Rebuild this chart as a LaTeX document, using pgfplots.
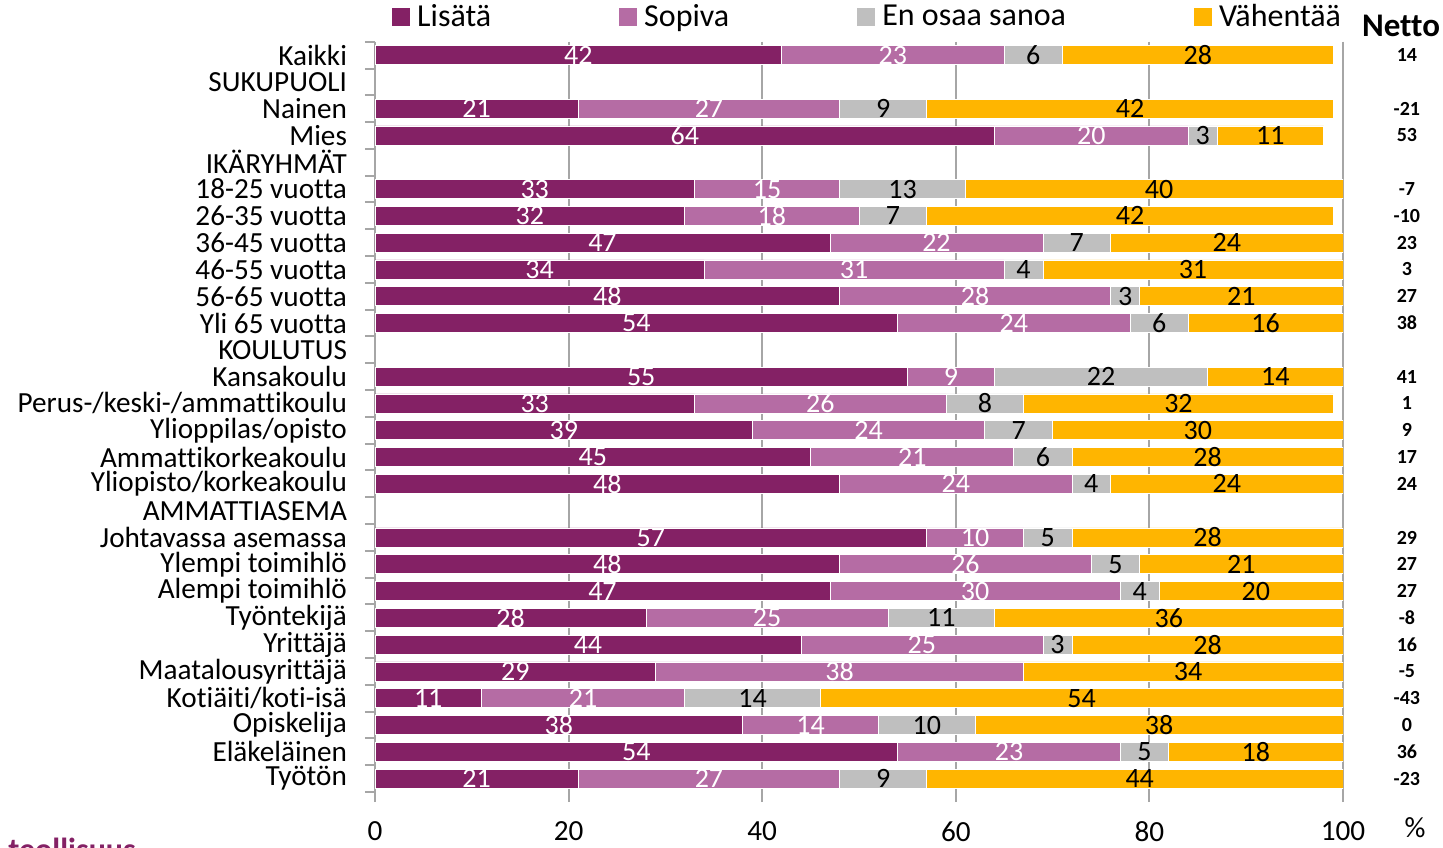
\documentclass[border=0pt]{standalone}
\usepackage{pgfplots}
\pgfplotsset{compat=1.18}
\usepackage{pgfplotstable}
\usepackage{fontspec}
\setmainfont{Carlito}[Ligatures=NoCommon]
\definecolor{lisata}{RGB}{132,33,101}
\definecolor{sopiva}{RGB}{181,108,164}
\definecolor{eos}{RGB}{191,191,191}
\definecolor{vahentaa}{RGB}{255,181,0}
\definecolor{gridc}{RGB}{166,166,166}
\newcommand{\fs}{\fontsize{14}{16.8}\selectfont}
\newcommand{\fl}{\fontsize{14.6}{17}\selectfont}
\newcommand{\fg}{\fontsize{16}{19}\selectfont}
\newcommand{\fn}{\fontsize{10}{12}\selectfont\bfseries}
\pgfplotstableread{
row a b c d net
1 42 23 6 28 14
3 21 27 9 42 -21
4 64 20 3 11 53
6 33 15 13 40 -7
7 32 18 7 42 -10
8 47 22 7 24 23
9 34 31 4 31 3
10 48 28 3 21 27
11 54 24 6 16 38
13 55 9 22 14 41
14 33 26 8 32 1
15 39 24 7 30 9
16 45 21 6 28 17
17 48 24 4 24 24
19 57 10 5 28 29
20 48 26 5 21 27
21 47 30 4 20 27
22 28 25 11 36 -8
23 44 25 3 28 16
24 29 38 0 34 -5
25 11 21 14 54 -43
26 38 14 10 38 0
27 54 23 5 18 36
28 21 27 9 44 -23
}\data
\begin{document}
\begin{tikzpicture}[font=\fs]
\useasboundingbox (-187.5pt,-27.5pt) rectangle (534pt,396pt);
\pgfplotsset{base/.style={scale only axis, width=484pt, height=375.15pt,
  xmin=0, xmax=100, ymin=0.5, ymax=28.5, y dir=reverse, at={(0pt,0pt)}, anchor=south west}}
\begin{axis}[base,
  xbar stacked, bar width=9.5pt,
  axis line style={draw=none},
  xtick={0,20,...,100}, xtick pos=bottom, tick align=outside,
  xmajorgrids, grid style={gridc, line width=1pt},
  major tick length=5pt, minor tick length=5pt,
  xtick style={gridc, line width=1pt},
  ytick={1,...,28}, ytick pos=left,
  yticklabels={Kaikki,SUKUPUOLI,Nainen,Mies,IKÄRYHMÄT,18-25 vuotta,26-35 vuotta,36-45 vuotta,46-55 vuotta,56-65 vuotta,Yli 65 vuotta,KOULUTUS,Kansakoulu,Perus-/keski-/ammattikoulu,Ylioppilas/opisto,Ammattikorkeakoulu,Yliopisto/korkeakoulu,AMMATTIASEMA,Johtavassa asemassa,Ylempi toimihlö,Alempi toimihlö,Työntekijä,Yrittäjä,Maatalousyrittäjä,Kotiäiti/koti-isä,Opiskelija,Eläkeläinen,Työtön},
  minor ytick={0.5,1.5,...,28.5},
  every major y tick/.append style={draw=none},
  every minor y tick/.append style={gridc, line width=1pt},
  yticklabel style={font=\fl, xshift=-5.5pt},
  xticklabel style={font=\fl, yshift=-6.4pt},
  /pgf/number format/assume math mode=true,
  legend columns=4,
  legend style={draw=none, fill=none, font=\fg, at={(axis description cs:0.0112,1.0329)}, anchor=west,
    /tikz/every even column/.append style={column sep=62pt}},
  legend image code/.code={\fill[#1, draw=none] (0pt,-4.5pt) rectangle (9pt,4.5pt);},
]
\addplot[fill=lisata, draw=white, line width=0.4pt] table[x=a, y=row] {\data};
\addplot[fill=sopiva, draw=white, line width=0.4pt] table[x=b, y=row] {\data};
\addplot[fill=eos, draw=white, line width=0.4pt] table[x=c, y=row] {\data};
\addplot[fill=vahentaa, draw=white, line width=0.4pt] table[x=d, y=row] {\data};
\legend{\hspace{1.5pt}Lisätä,\hspace{1.5pt}Sopiva,\hspace{1.5pt}En osaa sanoa,\hspace{1.5pt}Vähentää}
\end{axis}
\begin{axis}[base, hide axis, clip=false]
\addplot[draw=none, mark=none, nodes near coords={\ifnum\pgfplotspointmeta=0 \else\pgfplotspointmeta\fi}, point meta=explicit symbolic,
  every node near coord/.append style={anchor=center, text=white, font=\fs}]
  table[x expr=\thisrow{a}/2, y=row, meta=a] {\data};
\addplot[draw=none, mark=none, nodes near coords={\ifnum\pgfplotspointmeta=0 \else\pgfplotspointmeta\fi}, point meta=explicit symbolic,
  every node near coord/.append style={anchor=center, text=white, font=\fs}]
  table[x expr=\thisrow{a}+\thisrow{b}/2, y=row, meta=b] {\data};
\addplot[draw=none, mark=none, nodes near coords={\ifnum\pgfplotspointmeta=0 \else\pgfplotspointmeta\fi}, point meta=explicit symbolic,
  every node near coord/.append style={anchor=center, text=black, font=\fs}]
  table[x expr=\thisrow{a}+\thisrow{b}+\thisrow{c}/2, y=row, meta=c] {\data};
\addplot[draw=none, mark=none, nodes near coords={\ifnum\pgfplotspointmeta=0 \else\pgfplotspointmeta\fi}, point meta=explicit symbolic,
  every node near coord/.append style={anchor=center, text=black, font=\fs}]
  table[x expr=\thisrow{a}+\thisrow{b}+\thisrow{c}+\thisrow{d}/2, y=row, meta=d] {\data};
\addplot[draw=none, mark=none, nodes near coords, point meta=explicit symbolic,
  every node near coord/.append style={anchor=center, text=black, font=\fn}]
  table[x expr=106.6, y=row, meta=net] {\data};
\end{axis}
\node[font=\fontsize{16.5}{19}\selectfont\bfseries] at (513pt,383pt) {Netto};
\node[font=\fl] at (520pt,-17.75pt) {\%};
\node[anchor=north west, inner sep=0pt, font=\fontsize{16}{19}\selectfont\bfseries, text=lisata] at (-183.5pt,-23pt) {teollisuus};
\end{tikzpicture}
\end{document}
